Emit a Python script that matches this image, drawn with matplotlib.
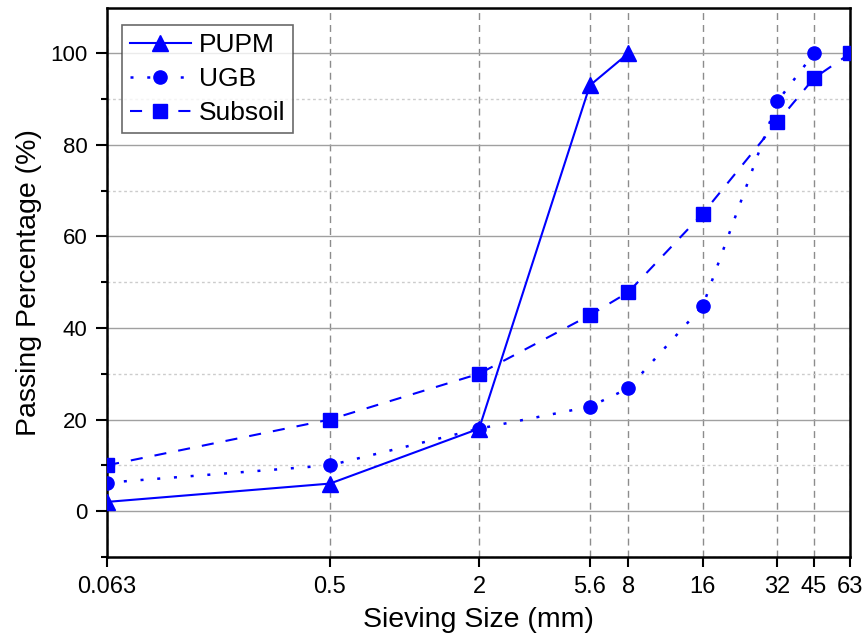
import matplotlib.pyplot as plt
from matplotlib.ticker import FixedLocator, NullLocator

plt.rcParams['font.family'] = ['Liberation Sans', 'DejaVu Sans']

sizes = [0.063, 0.5, 2, 5.6, 8, 16, 32, 45, 63]
tick_labels = ['0.063', '0.5', '2', '5.6', '8', '16', '32', '45', '63']

pupm_x = [0.063, 0.5, 2, 5.6, 8]
pupm_y = [2, 6, 18, 93, 100]

ugb_x = [0.063, 0.5, 2, 5.6, 8, 16, 32, 45]
ugb_y = [6.2, 10, 18, 22.8, 26.8, 44.8, 89.5, 100]

sub_x = [0.063, 0.5, 2, 5.6, 8, 16, 32, 45, 63]
sub_y = [10, 20, 30, 42.8, 47.8, 65, 85, 94.6, 100]

fig = plt.figure(figsize=(8.64, 6.4), dpi=100)
ax = fig.add_axes([0.124, 0.130, 0.860, 0.858])

blue = '#0000ff'
ax.plot(pupm_x, pupm_y, color=blue, ls='-', lw=1.5, marker='^', ms=11.5, label='PUPM', zorder=3)
ax.plot(ugb_x, ugb_y, color=blue, ls=(0, (1.2, 5.5)), lw=1.8, marker='o', ms=9.5, label='UGB', zorder=3)
ax.plot(sub_x, sub_y, color=blue, ls=(0, (5.8, 5.8)), lw=1.5, marker='s', ms=9.5, label='Subsoil', zorder=3)

ax.set_xscale('log')
ax.set_xlim(0.063, 63)
ax.set_ylim(-10, 110)
ax.xaxis.set_major_locator(FixedLocator(sizes))
ax.xaxis.set_minor_locator(NullLocator())
ax.set_xticklabels(tick_labels)
ax.yaxis.set_major_locator(FixedLocator([0, 20, 40, 60, 80, 100]))
ax.yaxis.set_minor_locator(FixedLocator([-10, 10, 30, 50, 70, 90]))

ax.grid(axis='y', which='major', color='#a0a0a0', ls='-', lw=1, zorder=0)
ax.grid(axis='y', which='minor', color='#cccccc', ls=(0, (2, 2)), lw=1, zorder=0)
ax.grid(axis='x', which='major', color='#8c8c8c', ls=(0, (5, 3.6)), lw=1, zorder=0)
ax.set_axisbelow(True)

ax.tick_params(axis='x', which='major', direction='out', length=7.5, width=1.5, labelsize=17, pad=6)
ax.tick_params(axis='y', which='major', direction='out', length=8, width=1.5, labelsize=16, pad=6)
ax.tick_params(axis='y', which='minor', direction='out', length=4.5, width=1.5)
for s in ax.spines.values():
    s.set_linewidth(1.8)

ax.set_xlabel('Sieving Size (mm)', fontsize=20.5, labelpad=7)
ax.set_ylabel('Passing Percentage (%)', fontsize=20.5, labelpad=6)

leg = ax.legend(loc='upper left', fontsize=19, frameon=True, fancybox=False,
                edgecolor='#444444', handlelength=2.3, handletextpad=0.3,
                borderpad=0.3, borderaxespad=0, labelspacing=0.38,
                bbox_to_anchor=(0.020, 0.968))
leg.get_frame().set_linewidth(1.2)

fig.savefig('out.png', dpi=100)
